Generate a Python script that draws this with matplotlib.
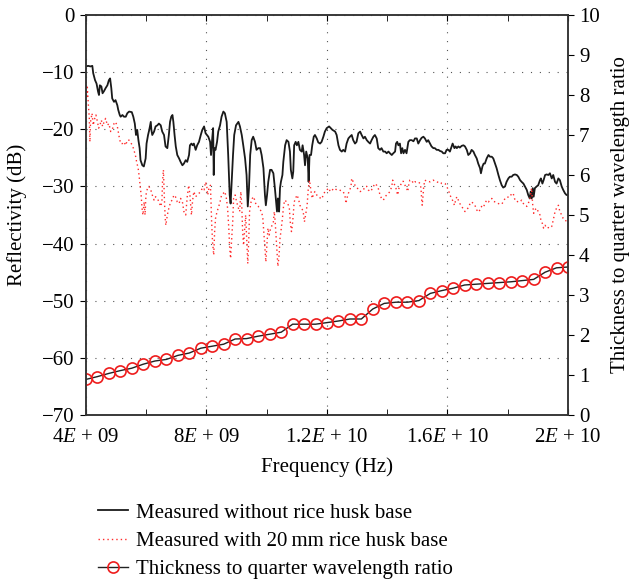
import numpy as np
import matplotlib
matplotlib.use("Agg")
import matplotlib.pyplot as plt
from matplotlib.ticker import MultipleLocator
from matplotlib.legend_handler import HandlerLine2D

plt.rcParams["font.family"] = ["Liberation Serif", "DejaVu Serif"]
plt.rcParams["font.size"] = 15
plt.rcParams["mathtext.fontset"] = "custom"
plt.rcParams["mathtext.rm"] = "Liberation Serif"
plt.rcParams["mathtext.it"] = "Liberation Serif:italic"

# frequencies in GHz, reflectivity in dB
black_f = [
    4.00, 4.07, 4.15, 4.21, 4.24, 4.30, 4.35, 4.40, 4.43, 4.46,
    4.51, 4.55, 4.60, 4.65, 4.71, 4.76, 4.80, 4.84, 4.87, 4.93,
    4.98, 5.04, 5.07, 5.12, 5.15, 5.21, 5.26, 5.32, 5.37, 5.43,
    5.52, 5.57, 5.62, 5.66, 5.70, 5.74, 5.78, 5.81, 5.87, 5.92,
    5.98, 6.01, 6.06, 6.10, 6.15, 6.17, 6.20, 6.26, 6.31, 6.37,
    6.42, 6.48, 6.53, 6.59, 6.64, 6.70, 6.75, 6.79, 6.83, 6.87,
    6.90, 6.94, 6.98, 7.03, 7.09, 7.14, 7.20, 7.25, 7.31, 7.36,
    7.42, 7.45, 7.50, 7.54, 7.58, 7.64, 7.69, 7.75, 7.81, 7.86,
    7.92, 7.97,
    8.06, 8.12, 8.15, 8.19, 8.22, 8.24, 8.26, 8.30, 8.35, 8.39,
    8.45, 8.50, 8.56, 8.61, 8.67, 8.72, 8.77, 8.80, 8.83, 8.88,
    8.92, 8.98, 9.06, 9.11, 9.17, 9.22, 9.28, 9.33, 9.37, 9.41,
    9.45, 9.50, 9.55, 9.61, 9.66, 9.72, 9.78, 9.83, 9.89, 9.94,
    9.97, 10.01, 10.05, 10.11, 10.16, 10.22, 10.27, 10.31, 10.34, 10.37,
    10.41, 10.44, 10.47, 10.52, 10.55, 10.61, 10.66, 10.72, 10.77, 10.80,
    10.85, 10.88, 10.91, 10.96, 11.00, 11.05, 11.10, 11.16, 11.19, 11.24,
    11.27, 11.31, 11.36, 11.39, 11.42, 11.47, 11.51, 11.56, 11.60, 11.66,
    11.71, 11.77, 11.82, 11.88, 11.93, 11.99, 12.07,
    12.18, 12.27, 12.32, 12.38, 12.43, 12.49, 12.54, 12.60, 12.65, 12.71,
    12.76, 12.82, 12.87, 12.93, 12.98, 13.04, 13.10, 13.15, 13.21, 13.26,
    13.32, 13.37, 13.43, 13.48, 13.54, 13.59, 13.65, 13.70, 13.76, 13.81,
    13.87, 13.93, 13.98, 14.04, 14.09, 14.15, 14.20, 14.26, 14.29, 14.33,
    14.37, 14.42, 14.46, 14.50, 14.54, 14.59, 14.64, 14.70, 14.75, 14.81,
    14.87, 14.92, 14.98, 15.03, 15.09, 15.14, 15.20, 15.25, 15.31, 15.36,
    15.42, 15.47, 15.53, 15.58, 15.64, 15.70, 15.75, 15.81, 15.86, 15.92,
    15.97,
    16.03, 16.08, 16.14, 16.17, 16.23, 16.27, 16.31, 16.36, 16.41, 16.47,
    16.53, 16.58, 16.64, 16.69, 16.75, 16.80, 16.86, 16.91, 16.97, 17.02,
    17.08, 17.11, 17.16, 17.20, 17.24, 17.30, 17.36, 17.41, 17.47, 17.52,
    17.58, 17.63, 17.69, 17.74, 17.80, 17.85, 17.91, 17.96, 18.02, 18.07,
    18.13, 18.18, 18.24, 18.30, 18.35, 18.41, 18.46, 18.52, 18.57, 18.63,
    18.68, 18.73, 18.76, 18.79, 18.83, 18.86, 18.90, 18.96, 19.01, 19.07,
    19.10, 19.15, 19.19, 19.24, 19.29, 19.35, 19.40, 19.46, 19.51, 19.57,
    19.62, 19.68, 19.73, 19.79, 19.84, 19.90, 19.95, 20.00,
]
black_db = [
    -9.0, -8.9, -9.0, -8.9, -10.2, -11.4, -12.0, -13.4, -14.0, -12.3,
    -12.5, -13.7, -13.3, -12.8, -12.3, -11.4, -11.1, -12.8, -14.6, -15.2,
    -14.9, -15.8, -16.6, -17.5, -17.8, -17.5, -17.8, -17.8, -17.2, -16.9,
    -17.0, -17.8, -19.0, -21.0, -20.1, -21.9, -23.3, -25.4, -26.3, -26.5,
    -25.1, -22.5, -21.0, -20.1, -18.7, -20.1, -21.0, -20.4, -19.5, -19.3,
    -19.0, -19.3, -20.4, -21.0, -23.0, -23.3, -21.0, -18.7, -17.8, -17.5,
    -18.7, -21.0, -23.0, -24.5, -25.1, -25.7, -26.3, -26.0, -25.4, -25.7,
    -24.5, -22.8, -22.5, -22.8, -22.5, -23.6, -22.8, -22.2, -21.0, -20.1,
    -19.5, -20.7,
    -21.3, -22.2, -24.5, -21.6, -19.8, -28.0, -23.3, -23.6, -22.2, -20.4,
    -19.3, -17.8, -16.9, -17.2, -18.7, -24.5, -31.5, -33.0, -29.8, -24.5,
    -21.0, -19.3, -18.7, -19.5, -21.0, -22.8, -25.1, -28.0, -33.5, -30.3,
    -24.5, -21.9, -21.3, -22.2, -23.6, -23.3, -23.3, -24.5, -26.8, -31.5,
    -33.3, -31.5, -29.2, -27.1, -27.1, -27.7, -30.3, -32.7, -34.4, -32.1,
    -34.4, -30.3, -29.2, -28.0, -25.7, -22.8, -21.9, -22.2, -23.9, -27.1,
    -28.6, -27.4, -22.8, -22.2, -22.8, -22.2, -23.6, -23.9, -22.8, -24.5,
    -26.3, -23.9, -25.1, -29.2, -24.5, -24.5, -22.8, -21.3, -21.0, -21.6,
    -22.3, -22.5, -22.2, -21.3, -20.4, -19.8, -19.5,
    -20.1, -20.4, -21.0, -22.8, -23.6, -23.9, -23.6, -23.9, -22.5, -21.6,
    -21.3, -21.0, -21.9, -22.5, -22.2, -20.7, -20.4, -21.0, -21.6, -21.3,
    -21.9, -22.2, -22.5, -21.9, -21.3, -21.0, -21.6, -23.3, -23.6, -23.3,
    -23.9, -23.9, -24.2, -23.9, -24.2, -24.5, -24.2, -23.9, -22.5, -22.2,
    -22.8, -22.5, -24.2, -23.3, -24.2, -23.6, -24.2, -22.2, -21.9, -21.9,
    -22.1, -21.6, -21.6, -22.5, -21.9, -21.5, -21.3, -21.6, -22.2, -21.9,
    -22.5, -23.0, -23.3, -23.3, -23.6, -23.6, -23.8, -23.9, -24.2, -24.2,
    -23.6,
    -23.6, -23.9, -23.0, -22.5, -23.3, -23.0, -23.3, -23.0, -23.2, -22.9,
    -22.8, -23.0, -23.6, -24.5, -24.2, -23.6, -23.9, -24.5, -25.1, -26.0,
    -26.8, -27.7, -26.5, -26.0, -26.0, -25.1, -24.5, -24.8, -24.8, -25.1,
    -26.0, -26.8, -28.0, -28.9, -29.8, -30.2, -30.0, -29.2, -28.6, -28.3,
    -28.3, -28.0, -27.9, -28.0, -28.3, -28.9, -29.2, -29.5, -30.0, -30.6,
    -31.5, -32.1, -30.9, -32.1, -30.3, -31.8, -30.3, -30.0, -29.8, -28.9,
    -28.6, -29.5, -28.9, -28.0, -27.9, -28.0, -27.7, -28.6, -28.0, -29.2,
    -29.5, -28.6, -28.9, -30.0, -30.6, -31.2, -31.5, -31.5,
]

red_f = [
    4.00, 4.02, 4.04, 4.08, 4.11, 4.13, 4.15, 4.20, 4.24, 4.29,
    4.33, 4.38, 4.42, 4.46, 4.51, 4.55, 4.60, 4.65, 4.71, 4.76,
    4.82, 4.87, 4.93, 4.98, 5.04, 5.10, 5.15, 5.21, 5.26, 5.32,
    5.37, 5.43, 5.48, 5.54, 5.59, 5.65, 5.68, 5.73, 5.76, 5.79,
    5.83, 5.86, 5.89, 5.93, 5.96, 5.99, 6.04, 6.09, 6.15, 6.20,
    6.26, 6.31, 6.37, 6.42, 6.48, 6.52, 6.54, 6.57, 6.59, 6.61,
    6.63, 6.65, 6.70, 6.75, 6.81, 6.86, 6.92, 6.97, 7.03, 7.09,
    7.14, 7.20, 7.25, 7.31, 7.36, 7.41, 7.45, 7.50, 7.54, 7.58,
    7.64, 7.69, 7.75, 7.81, 7.86, 7.92, 7.97,
    8.01, 8.04, 8.08, 8.13, 8.15, 8.17, 8.20, 8.24, 8.27, 8.30,
    8.35, 8.39, 8.45, 8.50, 8.56, 8.61, 8.66, 8.70, 8.74, 8.77,
    8.80, 8.83, 8.87, 8.90, 8.95, 9.00, 9.06, 9.10, 9.14, 9.17,
    9.20, 9.23, 9.27, 9.30, 9.33, 9.37, 9.40, 9.43, 9.48, 9.52,
    9.57, 9.61, 9.66, 9.72, 9.78, 9.83, 9.87, 9.91, 9.94, 9.97,
    10.01, 10.04, 10.08, 10.13, 10.16, 10.22, 10.25, 10.28, 10.32, 10.35,
    10.37, 10.41, 10.44, 10.47, 10.52, 10.56, 10.60, 10.66, 10.72, 10.75,
    10.78, 10.82, 10.85, 10.88, 10.91, 10.96, 11.00, 11.05, 11.10, 11.16,
    11.21, 11.25, 11.29, 11.34, 11.38, 11.42, 11.47, 11.51, 11.56, 11.60,
    11.66, 11.71, 11.77, 11.82, 11.88, 11.93, 11.99, 12.07,
    12.10, 12.18, 12.24, 12.32, 12.40, 12.49, 12.54, 12.60, 12.63, 12.66,
    12.71, 12.76, 12.80, 12.82, 12.87, 12.93, 12.98, 13.04, 13.10, 13.15,
    13.21, 13.26, 13.32, 13.37, 13.43, 13.48, 13.54, 13.59, 13.65, 13.70,
    13.76, 13.81, 13.87, 13.93, 13.98, 14.04, 14.09, 14.15, 14.18, 14.22,
    14.28, 14.31, 14.35, 14.39, 14.43, 14.48, 14.53, 14.59, 14.64, 14.68,
    14.72, 14.75, 14.81, 14.87, 14.92, 14.98, 15.03, 15.09, 15.12, 15.14,
    15.16, 15.19, 15.21, 15.25, 15.31, 15.36, 15.42, 15.47, 15.53, 15.58,
    15.64, 15.70, 15.75, 15.81, 15.86, 15.92,
    15.97, 16.03, 16.08, 16.14, 16.19, 16.23, 16.27, 16.31, 16.36, 16.41,
    16.47, 16.53, 16.58, 16.64, 16.69, 16.75, 16.80, 16.86, 16.91, 16.97,
    17.02, 17.08, 17.13, 17.19, 17.24, 17.30, 17.36, 17.41, 17.47, 17.52,
    17.58, 17.63, 17.69, 17.74, 17.80, 17.85, 17.91, 17.96, 18.02, 18.07,
    18.13, 18.18, 18.24, 18.30, 18.35, 18.41, 18.46, 18.52, 18.57, 18.63,
    18.68, 18.74, 18.79, 18.83, 18.86, 18.90, 18.96, 19.01, 19.07, 19.10,
    19.15, 19.19, 19.24, 19.29, 19.35, 19.40, 19.46, 19.51, 19.57, 19.62,
    19.68, 19.73, 19.79, 19.84, 19.90, 19.95,
]
red_db = [
    -11.7, -14.6, -12.3, -15.8, -18.1, -22.2, -18.7, -17.2, -19.3, -18.1,
    -17.5, -18.7, -19.8, -19.3, -18.4, -19.5, -18.7, -18.1, -19.3, -19.0,
    -20.4, -20.1, -19.0, -18.7, -19.5, -21.3, -22.5, -22.5, -22.2, -22.8,
    -21.9, -21.9, -22.3, -22.8, -23.6, -24.8, -25.7, -26.8, -28.0, -29.5,
    -31.5, -33.8, -35.0, -32.7, -35.0, -31.5, -30.3, -30.0, -30.6, -31.5,
    -32.4, -31.8, -32.1, -32.7, -33.5, -32.7, -29.2, -27.1, -30.3, -33.3,
    -35.6, -36.8, -35.0, -33.8, -32.7, -32.4, -31.5, -31.8, -32.7, -33.0,
    -32.1, -32.7, -34.4, -35.0, -31.8, -29.8, -31.5, -35.0, -32.4, -30.9,
    -31.8, -31.5, -31.2, -30.9, -30.3, -30.6, -29.2,
    -30.0, -31.5, -30.3, -29.8, -32.7, -36.2, -39.7, -42.0, -37.9, -35.6,
    -34.4, -33.8, -32.7, -31.5, -31.2, -30.9, -32.1, -33.8, -37.3, -40.8,
    -42.6, -39.7, -36.2, -32.1, -31.5, -32.7, -33.8, -34.4, -30.9, -33.3,
    -37.9, -40.3, -37.3, -35.0, -38.5, -43.5, -39.7, -34.4, -32.7, -32.1,
    -31.8, -32.7, -33.3, -33.5, -34.1, -34.4, -35.6, -38.5, -40.8, -43.2,
    -39.7, -37.3, -38.5, -37.3, -37.0, -36.2, -34.4, -36.2, -39.7, -42.6,
    -44.0, -42.0, -39.1, -37.9, -35.6, -33.3, -32.4, -32.7, -33.3, -33.8,
    -36.2, -37.9, -36.8, -35.0, -32.7, -32.1, -31.5, -32.1, -33.3, -33.8,
    -34.4, -36.2, -35.0, -33.3, -30.3, -28.9, -30.9, -32.1, -31.2, -30.9,
    -31.5, -31.8, -32.0, -32.2, -31.5, -30.9, -30.6, -30.3,
    -30.9, -30.6, -30.3, -30.6, -30.6, -30.8, -30.9, -31.8, -33.0, -32.1,
    -31.2, -30.6, -29.8, -28.6, -29.2, -29.8, -30.0, -30.6, -30.9, -30.8,
    -30.6, -30.0, -30.0, -30.6, -30.9, -30.6, -30.0, -29.5, -29.8, -30.3,
    -31.5, -32.1, -32.4, -31.8, -31.5, -31.2, -30.9, -30.0, -28.9, -29.5,
    -30.0, -30.9, -31.5, -30.3, -30.0, -29.2, -29.1, -29.8, -30.3, -30.9,
    -29.5, -28.9, -28.9, -29.5, -29.2, -29.2, -29.2, -29.5, -30.3, -32.1,
    -33.3, -31.5, -30.0, -28.9, -29.1, -29.1, -29.2, -29.1, -28.9, -29.1,
    -29.2, -29.3, -29.2, -29.5, -29.5, -29.5,
    -30.0, -30.6, -31.5, -32.1, -32.7, -33.3, -32.4, -31.8, -32.4, -33.0,
    -33.5, -34.0, -34.4, -34.1, -33.7, -33.0, -32.7, -33.0, -33.3, -34.1,
    -34.5, -34.1, -33.5, -33.7, -33.0, -32.4, -32.7, -32.4, -32.1, -32.6,
    -32.7, -32.8, -33.0, -33.1, -33.1, -32.7, -32.1, -32.1, -31.8, -31.4,
    -31.5, -31.2, -32.4, -32.7, -32.6, -32.7, -32.4, -33.0, -33.3, -33.5,
    -33.0, -32.1, -30.3, -33.3, -34.7, -34.1, -33.8, -34.4, -35.0, -35.9,
    -36.5, -37.3, -36.8, -37.3, -37.2, -37.3, -37.0, -35.9, -34.4, -33.8,
    -33.3, -34.4, -35.0, -35.6, -36.0, -36.0,
]

ratio_f = [
    4.00, 4.38, 4.76, 5.14, 5.52, 5.90, 6.29, 6.67, 7.05, 7.43,
    7.81, 8.19, 8.57, 8.95, 9.33, 9.71, 10.10, 10.48, 10.86, 11.24,
    11.62, 12.00, 12.38, 12.76, 13.14, 13.52, 13.90, 14.29, 14.67, 15.05,
    15.43, 15.81, 16.19, 16.57, 16.95, 17.33, 17.71, 18.10, 18.48, 18.86,
    19.24, 19.62, 20.00,
]
ratio = [
    0.89, 0.96, 1.04, 1.11, 1.17, 1.27, 1.35, 1.39, 1.49, 1.55,
    1.67, 1.72, 1.77, 1.90, 1.91, 1.97, 2.02, 2.07, 2.27, 2.27,
    2.27, 2.31, 2.35, 2.40, 2.40, 2.65, 2.79, 2.82, 2.82, 2.86,
    3.04, 3.11, 3.17, 3.25, 3.27, 3.29, 3.31, 3.33, 3.36, 3.39,
    3.57, 3.68, 3.70,
]

xtick_vals = [4e9, 8e9, 1.2e10, 1.6e10, 2e10]
xtick_labels = ["4$\\mathit{E}$ + 09", "8$\\mathit{E}$ + 09", "1.2$\\mathit{E}$ + 10",
                "1.6$\\mathit{E}$ + 10", "2$\\mathit{E}$ + 10"]

labels = ["Measured without rice husk base",
          "Measured with 20\u2009mm rice husk base",
          "Thickness to quarter wavelength ratio"]


class LeftMarker(HandlerLine2D):
    # put the legend circle at the left end of the sample line
    def get_xdata(self, legend, xdescent, ydescent, width, height, fontsize):
        xdata, _ = super().get_xdata(legend, xdescent, ydescent, width, height, fontsize)
        return xdata, [xdata[0]]


fig = plt.figure(figsize=(6.32, 5.8), dpi=100)
ax = fig.add_axes([86 / 632, 1 - 415 / 580, 482 / 632, 400 / 580])
ax2 = ax.twinx()

GHz = 1e9
l1, = ax.plot(np.array(black_f) * GHz, black_db, color="#1a1a1a", lw=1.3)
l2, = ax.plot(np.array(red_f) * GHz, red_db, color="#ff2a2a", lw=1.0, ls=(0, (1, 2.2)))
l3, = ax2.plot(np.array(ratio_f) * GHz, ratio, color="#222222", lw=1.0, marker="o",
               ms=8, mfc="none", mec="#ee1c1c", mew=1.2)

ax.set_xlim(4e9, 2e10)
ax.set_ylim(-70, 0)
ax2.set_ylim(0, 10)
ax.set_xticks(xtick_vals, xtick_labels)
ax.xaxis.set_minor_locator(MultipleLocator(2e9))
ax.set_yticks(range(-70, 1, 10))
ax2.set_yticks(range(0, 11))
ax.grid(True, which="major", ls=(0, (1, 7)), color="#555555", lw=0.8)

ax.tick_params(axis="x", which="both", direction="in", top=True, length=4, pad=9)
ax.tick_params(axis="y", direction="out", length=4, pad=4)
ax2.tick_params(axis="y", direction="out", length=4, pad=4)
for a in (ax, ax2):
    for s in a.spines.values():
        s.set_linewidth(1.1)
        s.set_color("#333333")

ax.set_xlabel("Frequency (Hz)")
ax.xaxis.set_label_coords(0.5, -0.105)
ax.set_ylabel("Reflectivity (dB)")
ax.yaxis.set_label_coords(-0.122, 0.5)
ax2.set_ylabel("Thickness to quarter wavelength ratio")
ax2.yaxis.set_label_coords(1.089, 0.5)

fig.legend([l1, l2, l3], labels, loc="upper left", bbox_to_anchor=(98 / 632, 1 - 503 / 580),
           frameon=False, handlelength=1.45, handletextpad=0.35, labelspacing=0.42,
           borderpad=0, borderaxespad=0, handler_map={l3: LeftMarker()})

fig.savefig("out.png", dpi=100)
